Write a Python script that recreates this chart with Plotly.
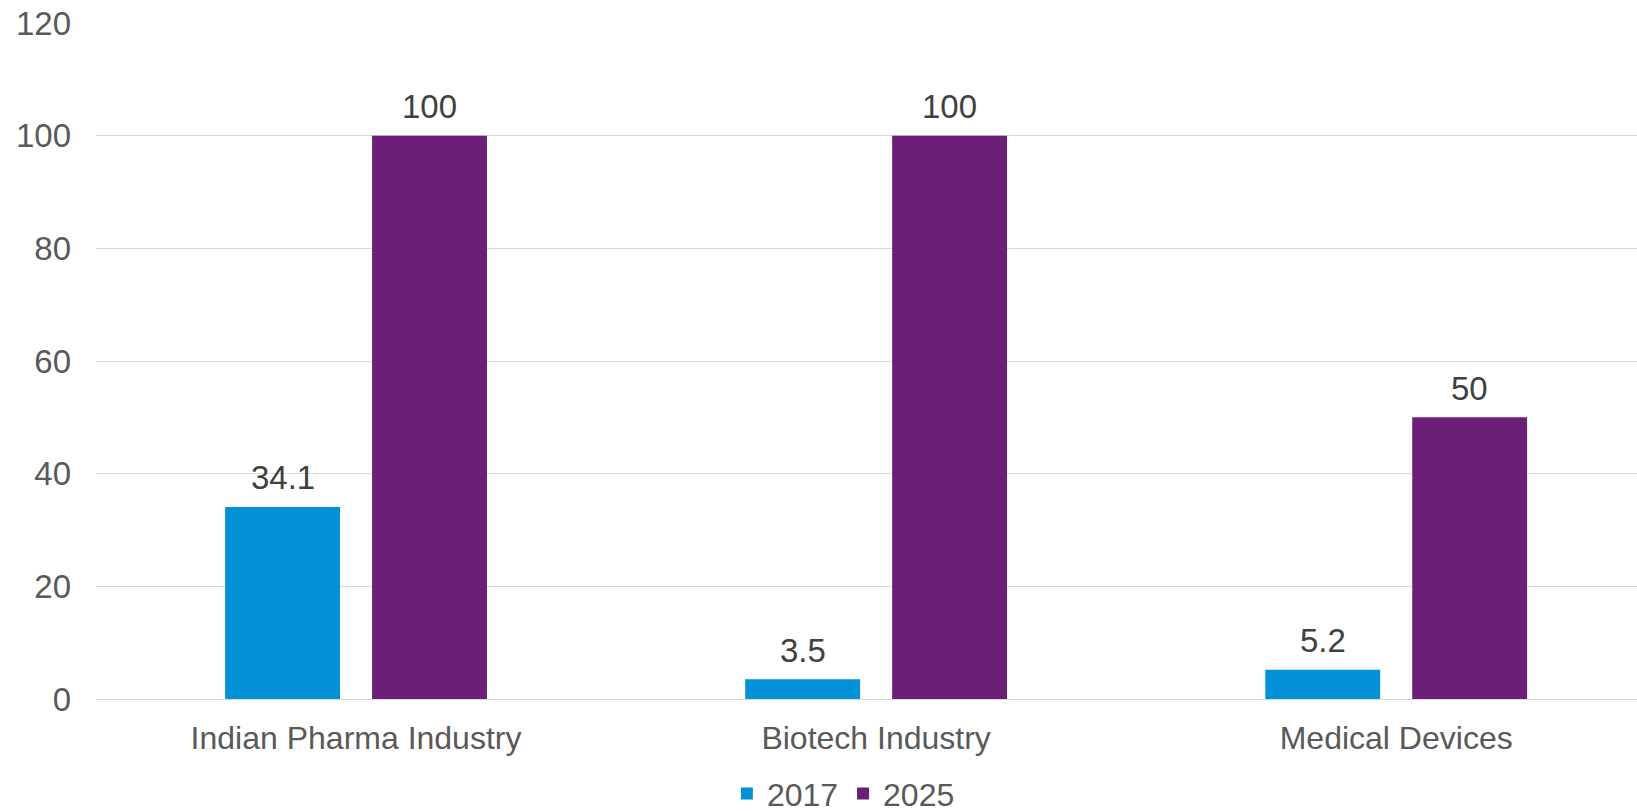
import plotly.graph_objects as go

categories = ["Indian Pharma Industry", "Biotech Industry", "Medical Devices"]
series_names = ["2017", "2025"]
values_2017 = [34.1, 3.5, 5.2]
values_2025 = [100, 100, 50]
labels_2017 = ["34.1", "3.5", "5.2"]
labels_2025 = ["100", "100", "50"]
y_ticks = [0, 20, 40, 60, 80, 100, 120]

FONT = "Liberation Sans, Arial, sans-serif"
FS = 32
FSN = 33

fig = go.Figure()
fig.add_trace(go.Bar(
    x=categories, y=values_2017, name=series_names[0],
    marker=dict(color="#0391D8", line=dict(width=0)),
))
fig.add_trace(go.Bar(
    x=categories, y=values_2025, name=series_names[1],
    marker=dict(color="#6C1F76", line=dict(width=0)),
))

# data labels above bars
for vals, labs, shift in [(values_2017, labels_2017, -73.5), (values_2025, labels_2025, 73.5)]:
    for c, v, t in zip(categories, vals, labs):
        fig.add_annotation(
            x=c, y=v, xref="x", yref="y", text=t, showarrow=False,
            xshift=shift, yshift=29, yanchor="middle", xanchor="center",
            font=dict(family=FONT, size=FSN, color="#404040"),
        )

fig.update_layout(
    width=1637, height=811,
    margin=dict(l=96, r=0, t=23, b=112, autoexpand=False),
    plot_bgcolor="white", paper_bgcolor="white",
    barmode="group", bargap=0.435, bargroupgap=0.218,
    font=dict(family=FONT, size=FS, color="#595959"),
    showlegend=True,
    legend=dict(
        orientation="h", x=0.485, xanchor="center", y=-0.14, yanchor="middle",
        font=dict(family=FONT, size=FS, color="#595959"),
        itemwidth=30, tracegroupgap=0,
    ),
    xaxis=dict(
        type="category", range=[-0.5, 2.463], automargin=False,
        showgrid=False, showline=False, zeroline=False, ticks="",
        tickfont=dict(family=FONT, size=FS, color="#595959"),
        ticklabelstandoff=17,
    ),
    yaxis=dict(
        range=[0, 120], tickvals=y_ticks, automargin=False,
        showgrid=True, gridcolor="#D9D9D9", gridwidth=1.3,
        zeroline=True, zerolinecolor="#D9D9D9", zerolinewidth=1.3,
        showline=False, ticks="",
        tickfont=dict(family=FONT, size=FSN, color="#595959"),
        ticklabelstandoff=24,
    ),
)

fig.write_html("out.html")
